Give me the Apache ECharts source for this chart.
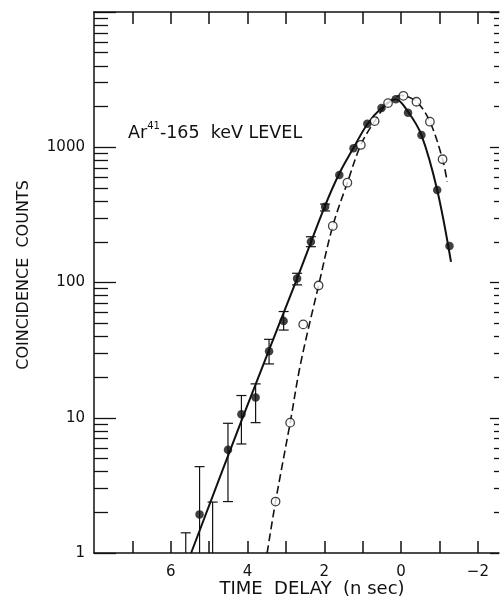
<!DOCTYPE html>
<html>
<head>
<meta charset="utf-8">
<script src="https://cdn.jsdelivr.net/npm/echarts@6.0.0/dist/echarts.min.js"></script>
<style>
  html, body { margin: 0; padding: 0; background: #fff; }
  #chart { width: 503px; height: 600px; }
</style>
</head>
<body>
<div id="chart"></div>
<script>
//== 数据
// filled points
var solidX = [5.25, 4.51, 4.16, 3.79, 3.44, 3.06, 2.71, 2.35, 1.98, 1.61, 1.24, 0.88, 0.51, 0.14, -0.18, -0.53, -0.94, -1.26];
var solidY = [1.93, 5.8, 10.6, 14.1, 31, 52, 107, 200, 363, 624, 982, 1490, 1950, 2260, 1800, 1230, 483, 186];
// open points
var openX = [3.27, 2.89, 2.55, 2.15, 1.78, 1.40, 1.05, 0.69, 0.34, -0.06, -0.40, -0.75, -1.08];
var openY = [2.4, 9.2, 49, 95, 262, 547, 1040, 1560, 2120, 2400, 2170, 1545, 815];
// error bars on the filled points
var errX = [5.61, 5.25, 4.91, 4.51, 4.16, 3.79, 3.44, 3.06, 2.71, 2.35, 1.98];
var errLow = [1, 1, 1, 2.4, 6.4, 9.2, 25, 44.5, 96, 184, 338];
var errHigh = [1.41, 4.35, 2.38, 9.1, 14.6, 17.8, 38, 61, 117, 218, 380];
// drawn curves
var fitSolidX = [5.47, 4.1, 2.71, 1.98, 1.61, 1.24, 0.88, 0.51, 0.14, -0.18, -0.53, -0.94, -1.30];
var fitSolidY = [1, 10.5, 107, 370, 640, 990, 1480, 1950, 2260, 1830, 1230, 483, 142];
var fitDashX = [3.49, 3.27, 2.89, 2.62, 2.15, 1.78, 1.40, 1.05, 0.69, 0.34, 0.0, -0.40, -0.75, -1.08, -1.20];
var fitDashY = [1, 2.4, 9.2, 25, 95, 262, 547, 1040, 1560, 2120, 2420, 2170, 1545, 815, 556];
// ticks
var xTicks = [-2, -1, 0, 1, 2, 3, 4, 5, 6, 7];
var xLabels = [-2, 0, 2, 4, 6];
var yMajor = [1, 10, 100, 1000, 10000];
var yLabels = [1, 10, 100, 1000];
var yMinor = [];
yMajor.slice(0, 4).forEach(function (d) {
    for (var k = 2; k <= 9; k++) yMinor.push(d * k);
});

var pairs = function (xs, ys) {
    return xs.map(function (x, i) { return [x, ys[i]]; });
};

var FONT = 'DejaVu Sans';
var INK = '#111';

var xBase = function (pos) {
    return {
        type: 'value', position: pos, min: -2.55, max: 8, inverse: true,
        axisLine: { show: true, onZero: false, lineStyle: { color: INK, width: 1.5 } },
        axisTick: { show: true, inside: true, length: 12, customValues: xTicks, lineStyle: { color: INK, width: 1.5 } },
        axisLabel: { show: false },
        splitLine: { show: false }
    };
};

var yBase = function (pos, ticks, len, line) {
    return {
        type: 'log', logBase: 10, position: pos, min: 1, max: 10000,
        axisLine: { show: line, onZero: false, lineStyle: { color: INK, width: 1.5 } },
        axisTick: { show: true, inside: true, length: len, customValues: ticks, lineStyle: { color: INK, width: 1.3 } },
        axisLabel: { show: false },
        splitLine: { show: false }
    };
};

var xBottom = xBase('bottom');
xBottom.axisLabel = {
    show: true, customValues: xLabels, margin: 12,
    fontFamily: FONT, fontSize: 15, color: INK,
    formatter: function (v) { return v < 0 ? '\u2212' + (-v) : String(v); }
};

var yLeft = yBase('left', yMajor, 22, true);
yLeft.axisLabel = {
    show: true, customValues: yLabels, margin: 9,
    fontFamily: FONT, fontSize: 15, color: INK,
    formatter: function (v) { return String(Math.round(v)); }
};

//== 误差棒
var renderErr = function (params, api) {
    var x = api.value(0);
    var lo = api.coord([x, api.value(1)]);
    var hi = api.coord([x, api.value(2)]);
    var w = 5;
    var st = { stroke: INK, lineWidth: 1.2 };
    var kids = [
        { type: 'line', shape: { x1: lo[0], y1: lo[1], x2: hi[0], y2: hi[1] }, style: st },
        { type: 'line', shape: { x1: hi[0] - w, y1: hi[1], x2: hi[0] + w, y2: hi[1] }, style: st }
    ];
    if (api.value(1) > 1) {
        kids.push({ type: 'line', shape: { x1: lo[0] - w, y1: lo[1], x2: lo[0] + w, y2: lo[1] }, style: st });
    }
    return { type: 'group', children: kids };
};

var chart = echarts.init(document.getElementById('chart'), null, { renderer: 'canvas' });
var option = {
    backgroundColor: '#fff',
    animation: false,
    grid: { left: 94, right: 4, top: 12, bottom: 47, outerBoundsMode: 'none' },
    xAxis: [xBottom, xBase('top')],
    yAxis: [
        yLeft,
        yBase('left', yMinor, 14, false),
        yBase('right', yMinor, 5, false),
        yBase('right', yMajor, 9, false)
    ],
    graphic: [
        {
            type: 'text', left: 128, top: 121,
            style: {
                text: '{a|Ar}{s|41}{a|-165  keV LEVEL}',
                rich: {
                    a: { fontFamily: FONT, fontSize: 17.5, fill: INK, verticalAlign: 'bottom', lineHeight: 21 },
                    s: { fontFamily: FONT, fontSize: 10, fill: INK, verticalAlign: 'top', lineHeight: 21 }
                }
            }
        },
        {
            type: 'text', x: 312, y: 589,
            style: { text: 'TIME  DELAY  (n sec)', fontFamily: FONT, fontSize: 18, fill: INK, align: 'center', verticalAlign: 'middle' }
        },
        {
            type: 'text', x: 24, y: 275, rotation: Math.PI / 2,
            style: { text: 'COINCIDENCE  COUNTS', fontFamily: FONT, fontSize: 16, fill: INK, align: 'center', verticalAlign: 'middle' }
        }
    ],
    series: [
        {
            name: 'err', type: 'custom', renderItem: renderErr, z: 2,
            data: errX.map(function (x, i) { return [x, errLow[i], errHigh[i]]; }),
            encode: { x: 0, y: [1, 2] }
        },
        {
            name: 'fit solid', type: 'line', smooth: 0.35, symbol: 'none', z: 3,
            data: pairs(fitSolidX, fitSolidY),
            lineStyle: { color: INK, width: 2 }
        },
        {
            name: 'fit dashed', type: 'line', smooth: 0.35, symbol: 'none', z: 3,
            data: pairs(fitDashX, fitDashY),
            lineStyle: { color: INK, width: 1.6, type: [8, 4] }
        },
        {
            name: 'open', type: 'scatter', symbol: 'circle', symbolSize: 8.5, z: 4,
            data: pairs(openX, openY),
            itemStyle: { color: '#fff', borderColor: INK, borderWidth: 1.3 }
        },
        {
            name: 'filled', type: 'scatter', symbol: 'circle', symbolSize: 8.5, z: 5,
            data: pairs(solidX, solidY),
            itemStyle: { color: INK }
        }
    ]
};
chart.setOption(option);
</script>
</body>
</html>
